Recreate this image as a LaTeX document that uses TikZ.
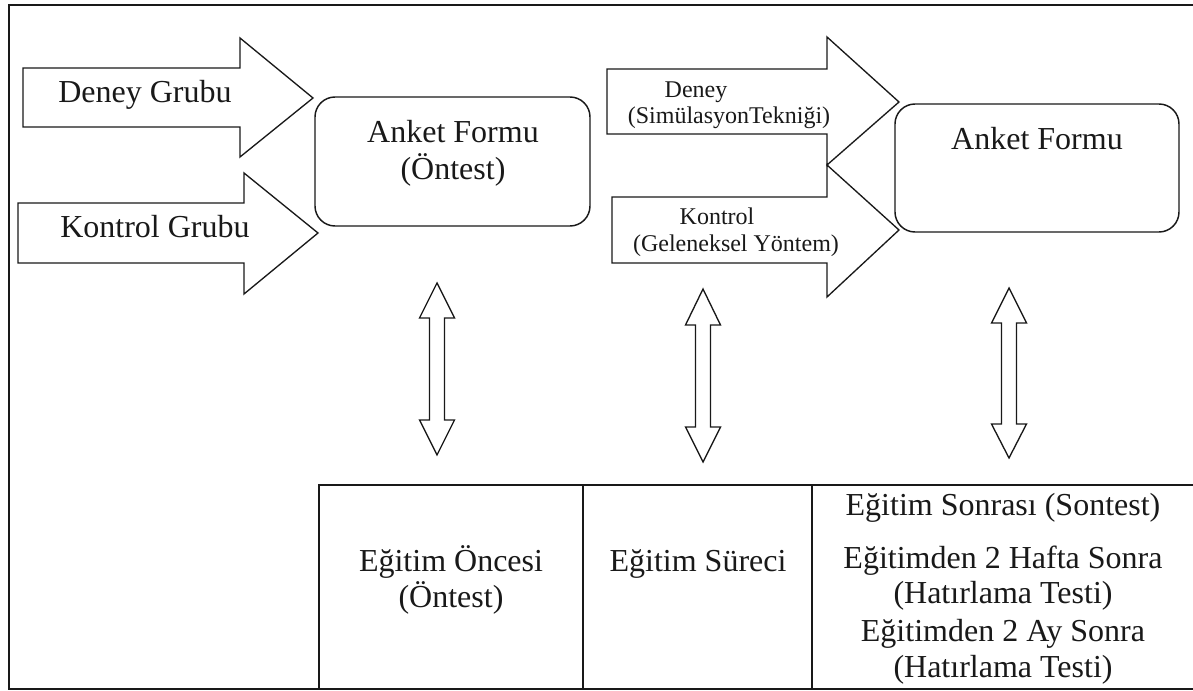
\documentclass[tikz,border=0pt]{standalone}
\usepackage{fontspec}
\setmainfont{Liberation Serif}
\newcommand\vdarrowshape[6]{% name, cx, top tip, base1, base2, bottom tip
  \draw[blk] (#2,#3) -- (#2+17.5,#4) -- (#2+7.5,#4) -- (#2+7.5,#5) -- (#2+17.5,#5)
    -- (#2,#6) -- (#2-17.5,#5) -- (#2-7.5,#5) -- (#2-7.5,#4) -- (#2-17.5,#4) -- cycle;
  \coordinate (#1) at (#2,#3);}
\begin{document}
\begin{tikzpicture}[x=0.75pt,y=-0.75pt,
  blk/.style={draw=black!90, line width=1pt, fill=white, line join=miter},
  rbox/.style={draw=black!90, line width=1.1pt, rounded corners=15pt, inner sep=0pt},
  big/.style={font=\fontsize{24}{28}\selectfont, anchor=base, inner sep=0pt, text=black!90},
  small/.style={font=\fontsize{18}{21}\selectfont, anchor=base, inner sep=0pt, text=black!90},
  frame/.style={draw=black!90, line width=2pt},
  tbl/.style={draw=black!90, line width=1.5pt}]
\useasboundingbox (0,0) rectangle (1193,691);
\fill[white] (0,0) rectangle (1193,691);

% outer frame
\draw[frame] (1193,5) -- (9,5) -- (9,689) -- (1193,689);

% left block arrows
\draw[blk] (23,68) -- (240,68) -- (240,38) -- (313,98) -- (240,157) -- (240,127) -- (23,127) -- cycle;
\draw[blk] (18,203) -- (244,203) -- (244,173) -- (318,233) -- (244,294) -- (244,263) -- (18,263) -- cycle;
\node[big] (tDG) at (145,103) {Deney Grubu};
\node[big] (tKG) at (155,238) {Kontrol Grubu};

% box 1
\node[rbox, minimum width=206.25pt, minimum height=96.75pt] (box1) at (452.5,161.5) {};
\node[big] (tA1) at (453,143) {Anket Formu};
\node[big] (tA1b) at (453,180) {(Öntest)};

% middle block arrows
\draw[blk] (607,69) -- (827,69) -- (827,37) -- (899,102) -- (827,165) -- (827,134) -- (607,134) -- cycle;
\draw[blk] (612,197) -- (827,197) -- (827,165) -- (899,230) -- (827,297) -- (827,263) -- (612,263) -- cycle;
\node[small] (tD) at (696,98) {Deney};
\node[small] (tDs) at (729,124) {(SimülasyonTekniği)};
\node[small] (tK) at (717,225) {Kontrol};
\node[small] (tKs) at (736,252) {(Geleneksel Yöntem)};

% box 2
\node[rbox, minimum width=213pt, minimum height=96pt] (box2) at (1037,168) {};
\node[big] (tA2) at (1037,150) {Anket Formu};

% vertical double arrows
\vdarrowshape{va1}{437}{283}{318}{420}{455}
\vdarrowshape{va2}{703}{289}{325}{427}{462}
\vdarrowshape{va3}{1009}{288}{323}{424}{458}

% table
\draw[tbl] (1193,485) -- (319,485) -- (319,689);
\draw[tbl] (583,485) -- (583,689);
\draw[tbl] (812,485) -- (812,689);
\node[big] (c1a) at (451,571) {Eğitim Öncesi};
\node[big] (c1b) at (451,607) {(Öntest)};
\node[big] (c2) at (698,571) {Eğitim Süreci};
\node[big] (c3a) at (1003,516) {Eğitim Sonrası (Sontest)};
\node[big] (c3b) at (1003,568) {Eğitimden 2 Hafta Sonra};
\node[big] (c3c) at (1003,604) {(Hatırlama Testi)};
\node[big] (c3d) at (1003,641) {Eğitimden 2 Ay Sonra};
\node[big] (c3e) at (1003,677) {(Hatırlama Testi)};
\end{tikzpicture}
\end{document}
